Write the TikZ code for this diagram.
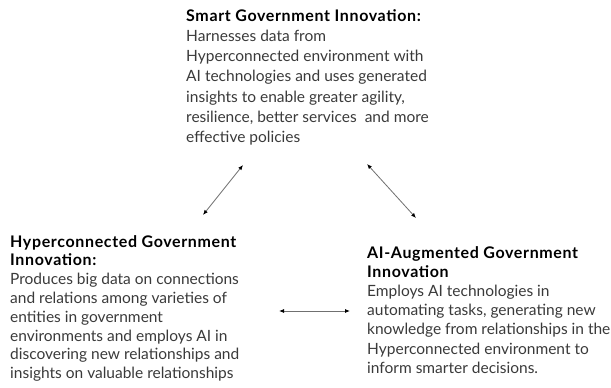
\documentclass[tikz,border=0pt]{standalone}
\usepackage{fontspec}
\setmainfont{Lato}
\newfontfamily\titulofont[LetterSpace=4]{Lato}
\usepackage{tikz}
\usetikzlibrary{arrows.meta, positioning}
\definecolor{bodytext}{HTML}{3A3A3A}
\definecolor{linegray}{HTML}{707070}
\newcommand{\titulo}[1]{{\titulofont\fontsize{16}{16}\bfseries\color{black}#1}}
\tikzstyle{bloque} = [inner sep=0pt, anchor=north west, align=left, text=bodytext]
\tikzstyle{flecha} = [draw=linegray, line width=0.8pt, {Latex[length=5pt,width=4pt,black]}-{Latex[length=5pt,width=4pt,black]}]

\begin{document}
\begin{tikzpicture}[x=1pt, y=-1pt]
	\useasboundingbox (0,0) rectangle (611,388);
	\node [bloque, font=\fontsize{15.5}{20.3}\selectfont] (smart) at (186,9) {%
		\titulo{Smart Government Innovation:}\\
		Harnesses data from\\
		Hyperconnected environment with\\
		AI technologies and uses generated\\
		insights to enable greater agility,\\
		resilience, better services\ \ and more\\
		effective policies};
	\node [bloque, font=\fontsize{15.5}{18.8}\selectfont] (hyper) at (10,235) {%
		\titulo{Hyperconnected Government}\\
		\titulo{Innovation:}\\
		Produces big data on connections\\
		and relations among varieties of\\
		entities in government\\
		environments and employs AI in\\
		discovering new relationships and\\
		insights on valuable relationships};
	\node [bloque, font=\fontsize{15.5}{19.2}\selectfont] (augmented) at (367,246) {%
		\titulo{AI-Augmented Government}\\
		\titulo{Innovation}\\
		Employs AI technologies in\\
		automating tasks, generating new\\
		knowledge from relationships in the\\
		Hyperconnected environment to\\
		inform smarter decisions.};
	% extremos de las flechas
	\coordinate (s1) at (243,165);
	\coordinate (h1) at (203,215);
	\coordinate (s2) at (367,164);
	\coordinate (a1) at (416,218);
	\coordinate (h2) at (279,311);
	\coordinate (a2) at (350,311);
	\draw [flecha] (s1) -- (h1);
	\draw [flecha] (s2) -- (a1);
	\draw [flecha] (h2) -- (a2);
\end{tikzpicture}
\end{document}
